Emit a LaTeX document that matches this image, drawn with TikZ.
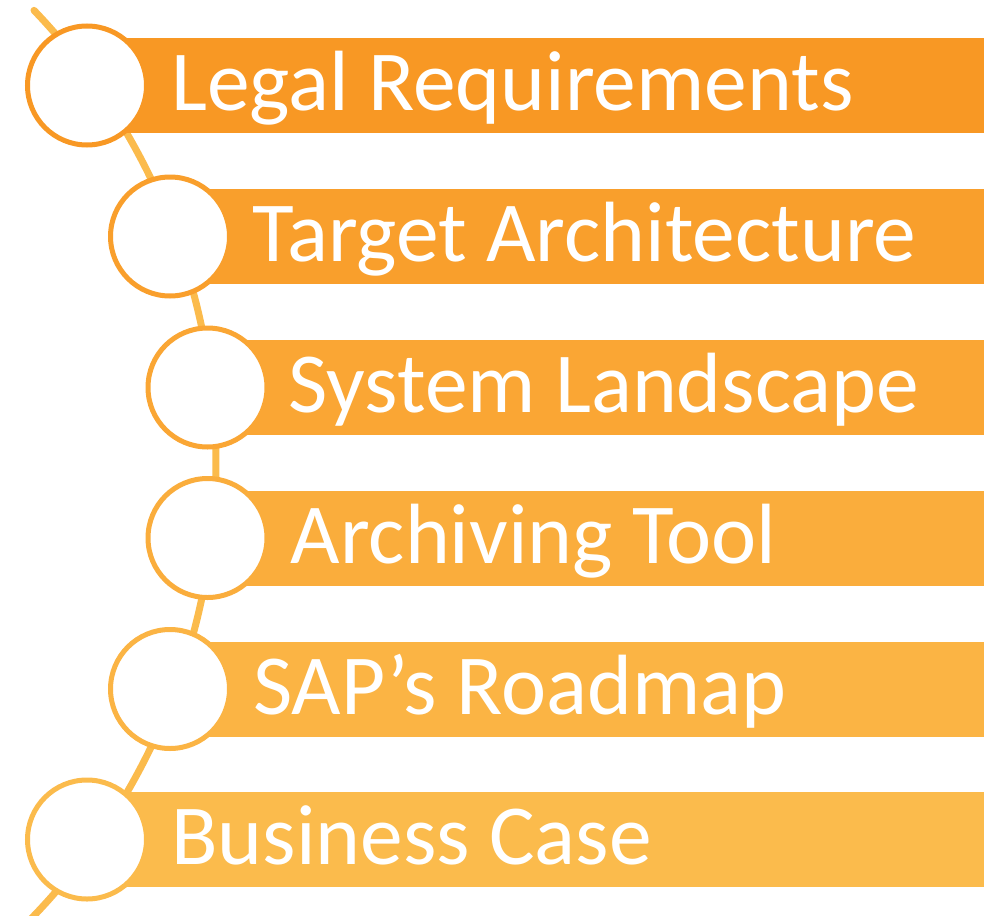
\documentclass[tikz,border=0pt]{standalone}
\usepackage{fontspec}
\setmainfont{Carlito}
\usetikzlibrary{calc}
\definecolor{myorangea}{RGB}{248,152,36}
\definecolor{myorangeb}{RGB}{249,159,44}
\definecolor{myorangec}{RGB}{250,166,52}
\definecolor{myoranged}{RGB}{250,173,60}
\definecolor{myorangee}{RGB}{251,180,68}
\definecolor{myorangef}{RGB}{251,187,76}
\colorlet{myarc}{myorangef}
\tikzset{
  stage/.style={circle, draw=#1, fill=white, line width=5pt, minimum size=119pt, inner sep=0pt},
  stagetext/.style={text=white, inner sep=0pt, anchor=base west, font=\fontsize{85.5}{100}\selectfont}
}

\begin{document}
\begin{tikzpicture}[x=1pt,y=-1pt]

    \pgfmathsetmacro\R{654}    % radius of the arc behind the circles
    \pgfmathsetmacro\hb{47.5}  % half the height of a bar

    \useasboundingbox (0,0) rectangle (984,915);

    \coordinate (M) at (-438,463);
    \coordinate (P1) at (87,85.5);
    \coordinate (P2) at (170,236.5);
    \coordinate (P3) at (207.5,387.5);
    \coordinate (P4) at (207.5,538);
    \coordinate (P5) at (170,689);
    \coordinate (P6) at (87,839.5);

    % arc
    \draw[line width=7pt, line cap=round, myarc] ($(M)+(-43.8:\R)$) arc (-43.8:47:\R);

    % bars
    \fill[myorangea] ($(P1)+(0,-\hb)$) rectangle ($(P1 -| 984,0)+(0,\hb)$);
    \fill[myorangeb] ($(P2)+(0,-\hb)$) rectangle ($(P2 -| 984,0)+(0,\hb)$);
    \fill[myorangec] ($(P3)+(0,-\hb)$) rectangle ($(P3 -| 984,0)+(0,\hb)$);
    \fill[myoranged] ($(P4)+(0,-\hb)$) rectangle ($(P4 -| 984,0)+(0,\hb)$);
    \fill[myorangee] ($(P5)+(0,-\hb)$) rectangle ($(P5 -| 984,0)+(0,\hb)$);
    \fill[myorangef] ($(P6)+(0,-\hb)$) rectangle ($(P6 -| 984,0)+(0,\hb)$);

    \node[stage=myorangea] (c1) at (P1) {};
    \node[stage=myorangeb] (c2) at (P2) {};
    \node[stage=myorangec] (c3) at (P3) {};
    \node[stage=myoranged] (c4) at (P4) {};
    \node[stage=myorangee] (c5) at (P5) {};
    \node[stage=myorangef] (c6) at (P6) {};

    \node[stagetext] (t1) at ($(P1)+(84,25)$) {Legal Requirements};
    \node[stagetext] (t2) at ($(P2)+(82,25)$) {Target Architecture};
    \node[stagetext] (t3) at ($(P3)+(81,25)$) {System Landscape};
    \node[stagetext] (t4) at ($(P4)+(83,25)$) {Archiving Tool};
    \node[stagetext] (t5) at ($(P5)+(83,25)$) {SAP’s Roadmap};
    \node[stagetext] (t6) at ($(P6)+(84,25)$) {Business Case};
\end{tikzpicture}
\end{document}
